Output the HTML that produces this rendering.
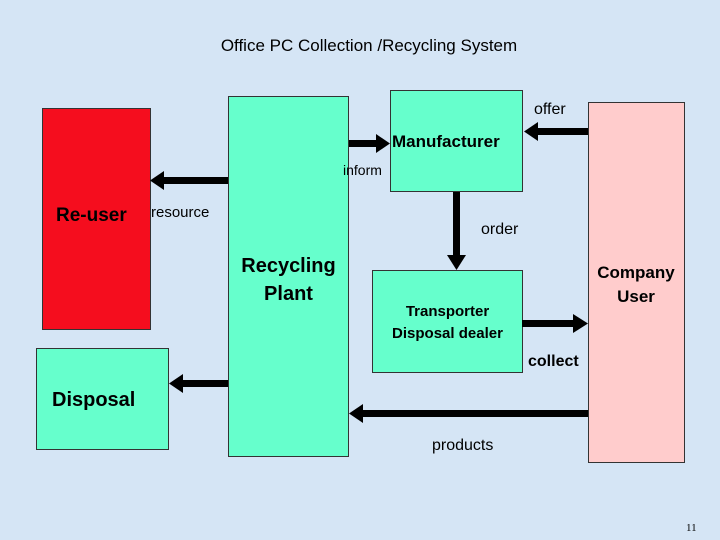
<!DOCTYPE html>
<html><head><style>
body{margin:0;width:720px;height:540px;background:#d5e5f5;position:relative;overflow:hidden;font-family:"Liberation Sans",sans-serif}
.b{position:absolute;border:1px solid #333;box-sizing:border-box}
.t{position:absolute;white-space:nowrap;color:#000}
.bold{font-weight:bold}
</style></head><body>
<div class="t" style="left:0;width:738px;text-align:center;top:36px;font-size:17px">Office PC Collection /Recycling System</div>
<div class="b" style="left:42px;top:108px;width:109px;height:222px;background:#f50d1e"></div>
<div class="b" style="left:228px;top:96px;width:121px;height:361px;background:#66ffcc"></div>
<div class="b" style="left:390px;top:90px;width:133px;height:102px;background:#66ffcc"></div>
<div class="b" style="left:588px;top:102px;width:97px;height:361px;background:#ffcccc"></div>
<div class="b" style="left:36px;top:348px;width:133px;height:102px;background:#66ffcc"></div>
<div class="b" style="left:372px;top:270px;width:151px;height:103px;background:#66ffcc"></div>
<svg width="720" height="540" style="position:absolute;left:0;top:0">
<g fill="#000">
<rect x="349" y="140" width="28" height="7"/><polygon points="376,134 390,143.5 376,153"/>
<rect x="163" y="177" width="65" height="7"/><polygon points="164,171 150,180.5 164,190"/>
<rect x="453" y="192" width="7" height="64"/><polygon points="447,255 466,255 456.5,270"/>
<rect x="537" y="128" width="51" height="7"/><polygon points="538,122 524,131.5 538,141"/>
<rect x="522" y="320" width="52" height="7"/><polygon points="573,314 588,323.5 573,333"/>
<rect x="182" y="380" width="46" height="7"/><polygon points="183,374 169,383.5 183,393"/>
<rect x="362" y="410" width="226" height="7"/><polygon points="363,404 349,413.5 363,423"/>
</g></svg>
<div class="t bold" style="left:392px;top:132px;font-size:17px">Manufacturer</div>
<div class="t" style="left:534px;top:101px;font-size:16px">offer</div>
<div class="t" style="left:343px;top:162px;font-size:14px">inform</div>
<div class="t bold" style="left:56px;top:205px;font-size:19px">Re-user</div>
<div class="t" style="left:151px;top:204px;font-size:15px">resource</div>
<div class="t" style="left:481px;top:221px;font-size:16px">order</div>
<div class="t bold" style="left:228px;top:252px;width:121px;text-align:center;font-size:20px;line-height:28px">Recycling<br>Plant</div>
<div class="t bold" style="left:586px;top:261px;width:100px;text-align:center;font-size:17px;line-height:24px">Company<br>User</div>
<div class="t bold" style="left:372px;top:301px;width:151px;text-align:center;font-size:15px;line-height:22px">Transporter<br>Disposal dealer</div>
<div class="t bold" style="left:528px;top:353px;font-size:16px">collect</div>
<div class="t bold" style="left:52px;top:389px;font-size:20px">Disposal</div>
<div class="t" style="left:432px;top:437px;font-size:16px">products</div>
<div class="t" style="left:686px;top:522px;font-size:11px;font-family:'Liberation Serif',serif">11</div>
</body></html>
